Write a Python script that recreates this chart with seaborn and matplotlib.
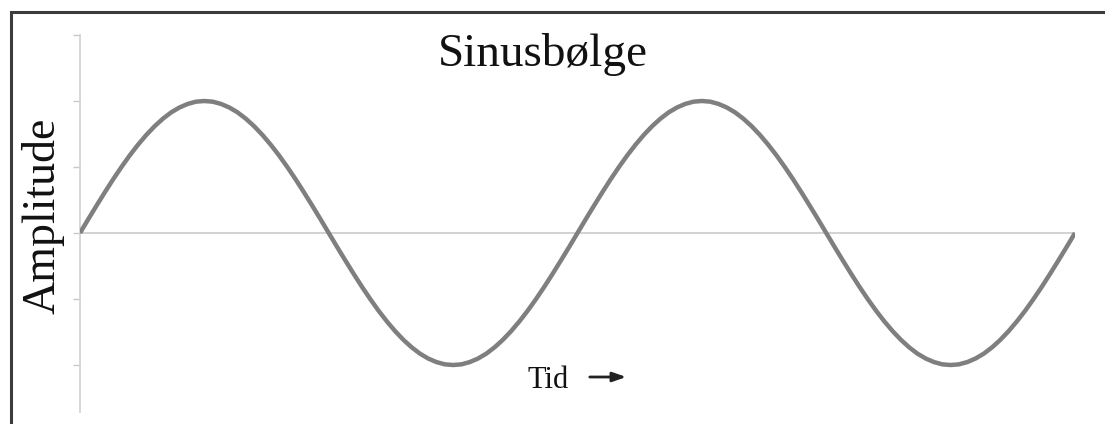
import matplotlib
matplotlib.use("Agg")
import matplotlib.pyplot as plt
import seaborn as sns
import pandas as pd
from matplotlib.patches import Rectangle

# Data: time (degrees of phase, 6-degree steps) and amplitude
tid = list(range(0, 721, 6))
amplitude = [
    # 0 - 180
    0.000, 0.105, 0.208, 0.309, 0.407, 0.500, 0.588, 0.669, 0.743, 0.809, 0.866,
    0.914, 0.951, 0.978, 0.995, 1.000, 0.995, 0.978, 0.951, 0.914, 0.866,
    0.809, 0.743, 0.669, 0.588, 0.500, 0.407, 0.309, 0.208, 0.105, 0.000,
    # 186 - 360
    -0.105, -0.208, -0.309, -0.407, -0.500, -0.588, -0.669, -0.743, -0.809, -0.866,
    -0.914, -0.951, -0.978, -0.995, -1.000, -0.995, -0.978, -0.951, -0.914, -0.866,
    -0.809, -0.743, -0.669, -0.588, -0.500, -0.407, -0.309, -0.208, -0.105, 0.000,
    # 366 - 540
    0.105, 0.208, 0.309, 0.407, 0.500, 0.588, 0.669, 0.743, 0.809, 0.866,
    0.914, 0.951, 0.978, 0.995, 1.000, 0.995, 0.978, 0.951, 0.914, 0.866,
    0.809, 0.743, 0.669, 0.588, 0.500, 0.407, 0.309, 0.208, 0.105, 0.000,
    # 546 - 720
    -0.105, -0.208, -0.309, -0.407, -0.500, -0.588, -0.669, -0.743, -0.809, -0.866,
    -0.914, -0.951, -0.978, -0.995, -1.000, -0.995, -0.978, -0.951, -0.914, -0.866,
    -0.809, -0.743, -0.669, -0.588, -0.500, -0.407, -0.309, -0.208, -0.105, 0.000,
]
y_ticks = [1.5, 1.0, 0.5, 0.0, -0.5, -1.0]

title_text = "Sinusbølge"
ylabel_text = "Amplitude"
xlabel_text = "Tid"

sns.set_style("white")
plt.rcParams['font.family'] = ['Liberation Serif', 'DejaVu Serif']

W, H = 1105, 424
fig = plt.figure(figsize=(W / 100, H / 100), dpi=100)

left_px, right_px = 80, 1075
top_px, bottom_px = 35, 412
ax = fig.add_axes([left_px / W, (H - bottom_px) / H,
                   (right_px - left_px) / W, (bottom_px - top_px) / H])

df = pd.DataFrame({"tid": tid, "amplitude": amplitude})
ax.axhline(0, color="#cfcfcf", lw=1.3, zorder=1)
sns.lineplot(data=df, x="tid", y="amplitude", ax=ax, color="#7f7f7f",
             lw=3.2, sort=False, zorder=3)
ax.lines[-1].set_solid_capstyle("butt")
ax.lines[-1].set_solid_joinstyle("round")

ax.set_xlim(tid[0], tid[-1])
ax.set_ylim(-1.356, 1.5)
ax.set_yticks(y_ticks)
ax.set_yticklabels([])
ax.set_xticks([])
ax.set_xlabel("")
ax.set_ylabel("")
for s in ["top", "right", "bottom"]:
    ax.spines[s].set_visible(False)
ax.spines["left"].set_color("#d4d4d4")
ax.spines["left"].set_linewidth(1.3)
ax.tick_params(axis="y", which="major", left=True, length=5, width=1.0,
               color="#c8c8c8", direction="out")
ax.patch.set_alpha(0)

# Frame around the picture (top and left edges visible)
fig.patches.append(Rectangle((10.5 / W, -0.1), 1.2, (H - 12) / H + 0.1,
                             transform=fig.transFigure, fill=False,
                             edgecolor="#3c3c3c", lw=2.2, zorder=0))

fig.text(543 / W, (H - 66) / H, title_text, ha="center", va="baseline",
         fontsize=34, color="#111111")
fig.text(43 / W, (H - 216) / H, ylabel_text, ha="center", va="center",
         rotation=90, fontsize=33, color="#111111")
fig.text(527 / W, (H - 388) / H, xlabel_text, ha="left", va="baseline",
         fontsize=22, color="#111111")
ax.annotate("", xy=(629 / W, (H - 377) / H), xytext=(587 / W, (H - 377) / H),
            xycoords="figure fraction", textcoords="figure fraction",
            arrowprops=dict(arrowstyle="-|>,head_length=0.8,head_width=0.28",
                            color="#222222", lw=2.0))

fig.savefig("out.png", dpi=100)
